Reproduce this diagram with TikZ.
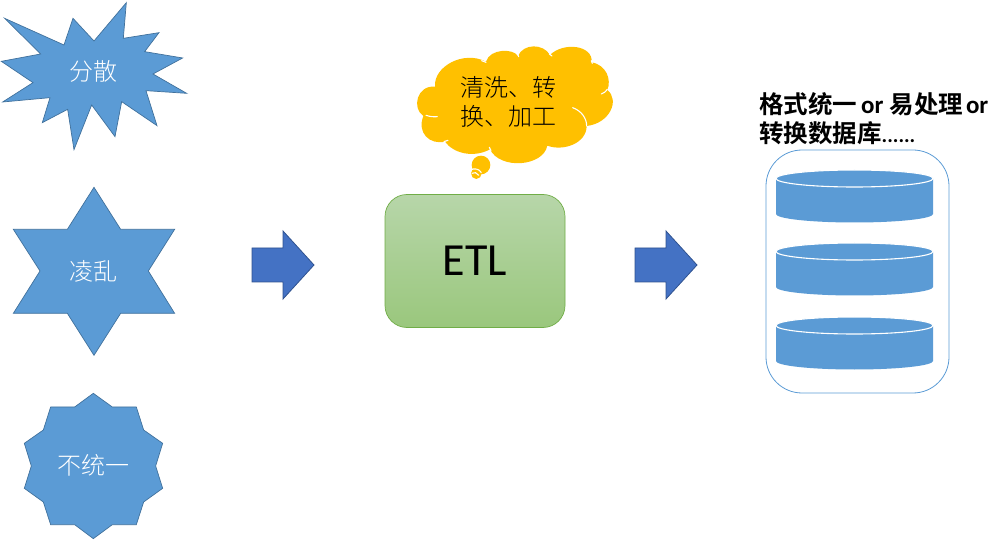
\documentclass[tikz,border=0pt]{standalone}
\usepackage{fontspec}
\setmainfont{Carlito}
\newfontfamily\cjk{Noto Sans CJK SC Light}
\newfontfamily\cjkb{Noto Sans CJK SC Bold}
\usetikzlibrary{calc}
\definecolor{shapeblue}{HTML}{5B9BD5}
\definecolor{shapeedge}{HTML}{41719C}
\definecolor{arrowblue}{HTML}{4472C4}
\definecolor{arrowedge}{HTML}{2F528F}
\definecolor{cloudfill}{HTML}{FFC000}
\definecolor{etltop}{HTML}{B7D6A9}
\definecolor{etlbot}{HTML}{9AC77D}
\definecolor{etledge}{HTML}{70AD47}
\newcommand{\orword}{{\normalfont\bfseries\fontsize{25}{29}\selectfont or}}
\newcommand{\dotrun}{{\normalfont\bfseries\fontsize{21}{29}\selectfont ......}}
\tikzset{
  x=1pt,y=-1pt,
  starshape/.style={fill=shapeblue,draw=shapeedge,line width=0.7pt,line join=miter},
  whitetext/.style={text=white,font=\cjk\fontsize{24}{28}\selectfont,inner sep=0pt},
  blockarrow/.style={fill=arrowblue,draw=arrowedge,line width=0.8pt},
  drum/.style={fill=shapeblue},
  rimline/.style={draw=white,line width=1.1pt},
  cloudarc/.style={draw=white,line width=1.1pt,line cap=round},
}
\begin{document}
\begin{tikzpicture}
\useasboundingbox (0,0) rectangle (1002,540);
% explosion
\begin{scope}[x=0.3333pt,y=-0.3333pt]
\draw[starshape] (14,55)--(192,135)--(219,55)--(282,123)--(379,8)--(370,115)--(477,98)--(434,155)--(548,174)--(459,222)--(560,280)--(438,272)--(471,377)--(365,305)--(345,410)--(275,315)--(222,449)--(203,328)--(127,368)--(150,293)--(8,306)--(99,248)--(4,184)--(122,162)--cycle;
\end{scope}
\node[whitetext] (scatter) at (93,71) {分散};
% six star
\begin{scope}[shift={(0,180)},x=0.3333pt,y=-0.3333pt]
\draw[starshape] (282,22)--(362,148)--(524,148)--(445,273)--(524,400)--(362,400)--(282,526)--(202,400)--(40,400)--(120,273)--(40,148)--(202,148)--cycle;
\end{scope}
\node[whitetext] (messy) at (93,271) {凌乱};
% ten star
\begin{scope}[shift={(0,380)},x=0.3333pt,y=-0.3333pt]
\draw[starshape] (280,40)--(337,81)--(409,81)--(431,150)--(488,190)--(467,258)--(488,325)--(431,366)--(409,434)--(337,434)--(280,476)--(224,434)--(152,434)--(130,366)--(73,325)--(94,258)--(73,190)--(130,150)--(152,81)--(224,81)--cycle;
\end{scope}
\node[whitetext] (uneven) at (93,465) {不统一};
% arrows
\draw[blockarrow] (252,248)--(283,248)--(283,231)--(314,265)--(283,299)--(283,282)--(252,282)--cycle;
\draw[blockarrow] (635,248)--(666,248)--(666,231)--(697,265)--(666,299)--(666,282)--(635,282)--cycle;
% ETL
\node[draw=etledge,line width=0.7pt,rounded corners=22pt,top color=etltop,bottom color=etlbot,minimum width=180pt,minimum height=133pt,inner sep=0pt,font=\fontsize{46}{50}\selectfont] (etl) at (475,261) {ETL};
% cloud
\begin{scope}[shift={(400,30)},x=0.3333pt,y=-0.3333pt]
\fill[cloudfill] (105,170) .. controls (100,110) and (190,60) .. (258,95)
 .. controls (270,55) and (340,55) .. (354,78)
 .. controls (370,40) and (430,40) .. (450,75)
 .. controls (490,35) and (580,45) .. (575,97)
 .. controls (620,105) and (635,150) .. (622,180)
 .. controls (660,210) and (630,280) .. (560,288)
 .. controls (560,340) and (490,365) .. (442,347)
 .. controls (430,410) and (300,420) .. (270,358)
 .. controls (220,385) and (160,370) .. (135,335)
 .. controls (90,345) and (50,310) .. (70,258)
 .. controls (35,235) and (50,165) .. (105,170) -- cycle;
\fill[cloudfill] (243,405) ellipse [x radius=28,y radius=28];
\fill[cloudfill] (229,430) ellipse [x radius=16,y radius=17];
\draw[cloudarc] (518,233) .. controls (545,243) and (560,265) .. (560,288);
\draw[cloudarc] (604,192) .. controls (612,189) and (618,185) .. (622,178);
\draw[cloudarc] (78,256) .. controls (90,260) and (100,261) .. (112,260);
\draw[cloudarc] (132,335) .. controls (136,334) and (140,333) .. (144,331);
\draw[cloudarc] (268,352) -- (273,362);
\draw[cloudarc] (245,92) -- (258,97);
\draw[cloudarc] (352,70) -- (356,80);
\draw[cloudarc] (448,72) -- (456,78);
\draw[cloudarc] (574,92) -- (577,100);
\draw[cloudarc] (212,420) .. controls (222,414) and (238,416) .. (244,428);
\draw[cloudarc] (216,430) .. controls (222,425) and (232,428) .. (236,436);
\end{scope}
\node[inner sep=0pt,align=left,font=\cjk\fontsize{24}{29}\selectfont,text=black] (clean) at (508,101.5) {清洗、转\\换、加工};
% title
\node[anchor=north west,inner sep=0pt,align=left,font=\cjkb\fontsize{24.5}{29}\selectfont,text=black] (title) at (759,92) {格式统一\kern4pt\orword\kern6pt 易处理\kern3pt\orword\\转换数据库\dotrun};
% container
\node[draw=shapeblue,line width=0.8pt,rounded corners=36pt,minimum width=183pt,minimum height=243pt,inner sep=0pt] (store) at (857.5,271.5) {};
% drums
\foreach \t/\n in {170/a,243/b,317/c}{
  \path[drum,fill=shapeblue] (776,\t+8.5) arc[start angle=180,end angle=360,x radius=78.5,y radius=-8.5]
     -- (933,\t+44) arc[start angle=0,end angle=-180,x radius=78.5,y radius=-8.5] -- cycle;
  \draw[rimline,fill=shapeblue] (854.5,\t+8.5) ellipse [x radius=78.5,y radius=8.5];
}
\end{tikzpicture}
\end{document}
